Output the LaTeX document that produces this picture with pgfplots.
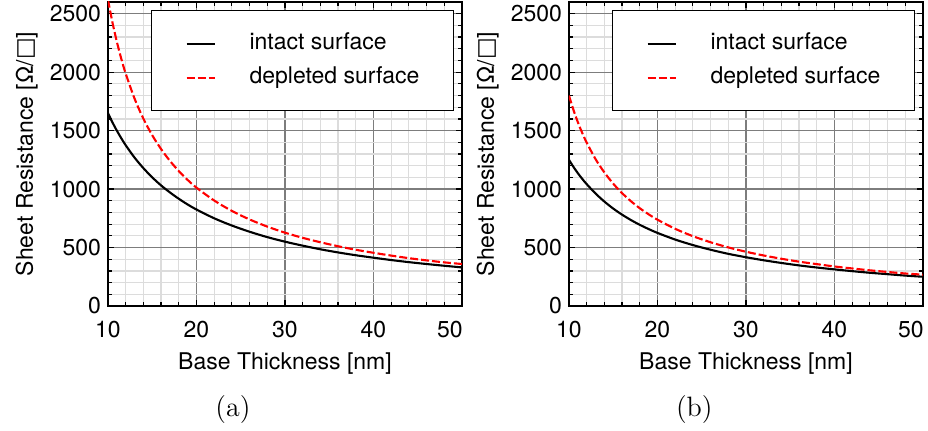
\documentclass[border=0pt]{standalone}
\usepackage{fontspec}
\newfontfamily\helv{TeX Gyre Heros}
\newfontfamily\symf{DejaVu Sans}
\usepackage{pgfplots}
\pgfplotsset{compat=1.18}
\usepackage{pgfplotstable}
\definecolor{majgrid}{RGB}{125,125,125}
\definecolor{mingrid}{RGB}{220,220,220}

% panel (a): sheet resistance vs base thickness
\pgfplotstableread{
x intact depleted
10 1650 2619
10.5 1571 2426
11 1500 2260
11.5 1435 2115
12 1375 1988
13 1269 1774
14 1179 1602
15 1100 1460
16 1031 1342
17 971 1241
18 917 1154
19 868 1078
20 825 1012
22 750 902
24 688 813
26 635 740
28 589 679
30 550 627
32 516 583
34 485 545
36 458 511
38 434 481
40 413 455
42 393 431
44 375 409
46 359 390
48 344 373
50 330 359
}\tabA

% panel (b)
\pgfplotstableread{
x intact depleted
10 1250 1799
10.5 1190 1678
11 1136 1572
11.5 1087 1479
12 1042 1397
13 962 1256
14 893 1142
15 833 1046
16 781 965
17 735 896
18 694 836
19 658 784
20 625 738
22 568 660
24 521 597
26 481 545
28 446 501
30 417 464
32 391 432
34 368 404
36 347 379
38 329 358
40 313 338
42 298 321
44 284 305
46 272 291
48 260 278
50 250 268
}\tabB

\pgfplotsset{
  panel/.style={
    width=177pt, height=152pt, scale only axis,
    clip mode=individual,
    xmin=10, xmax=50, ymin=0, ymax=2600,
    xtick={10,20,...,50}, ytick={0,500,...,2500},
    xticklabels={10,20,30,40,{\hspace*{-12pt}50}},
    minor x tick num=4, minor y tick num=4,
    grid=both,
    major grid style={draw=majgrid, line width=0.6pt},
    minor grid style={draw=mingrid, line width=0.6pt},
    axis line style={line width=0.8pt},
    tick align=inside, major tick length=3pt, minor tick length=2pt,
    tick style={black, line width=0.6pt},
    tick label style={font=\helv\fontsize{11.5}{13}\selectfont},
    /pgf/number format/assume math mode=true,
    /pgf/number format/1000 sep={},
    xticklabel style={anchor=base, yshift=-16pt},
    every axis x label/.style={at={(axis description cs:0.5,-0.2105)}, anchor=base,
      font=\helv\fontsize{11.5}{13}\selectfont},
    every axis y label/.style={at={(axis description cs:-0.2119,0.5)}, rotate=90, anchor=base,
      font=\helv\fontsize{11.5}{13}\selectfont},
    xlabel={Base Thickness [nm]},
    ylabel={Sheet Resistance [Ω/{\symf □}]},
    legend style={at={(rel axis cs:0.9774,0.9737)}, anchor=north east,
      draw=black, line width=0.6pt, fill=white,
      inner xsep=17pt, inner ysep=11pt, column sep=17pt, row sep=6pt,
      font=\helv\fontsize{11.5}{13}\selectfont,
      nodes={inner sep=0pt, text height=8.5pt, text depth=2.5pt},
      cells={anchor=west}},
    legend image code/.code={\draw[#1] (0pt,0pt) -- (14pt,0pt);},
  },
  intact/.style={black, line width=1.05pt, smooth},
  depleted/.style={red, line width=1.05pt, dash pattern=on 4pt off 1.5pt, smooth},
}

\begin{document}
\begin{tikzpicture}
  \useasboundingbox (-54pt,-62.5pt) rectangle (410pt,153pt);
  \begin{axis}[panel]
    \addplot[intact] table[x=x, y=intact] {\tabA};
    \addlegendentry{intact surface}
    \addplot[depleted] table[x=x, y=depleted] {\tabA};
    \addlegendentry{depleted surface}
    \node[anchor=base, font=\fontsize{14}{16}\selectfont] at (rel axis cs:0.353,-0.362) {(a)};
  \end{axis}
  \begin{axis}[panel, at={(230.5pt,0pt)}]
    \addplot[intact] table[x=x, y=intact] {\tabB};
    \addlegendentry{intact surface}
    \addplot[depleted] table[x=x, y=depleted] {\tabB};
    \addlegendentry{depleted surface}
    \node[anchor=base, font=\fontsize{14}{16}\selectfont] at (rel axis cs:0.354,-0.362) {(b)};
  \end{axis}
\end{tikzpicture}
\end{document}
